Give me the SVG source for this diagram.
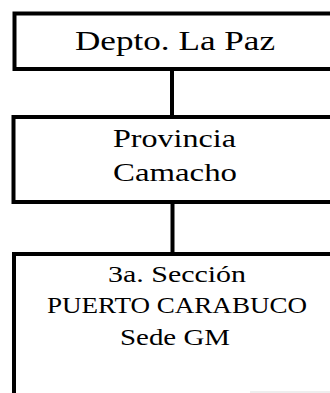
<svg xmlns="http://www.w3.org/2000/svg" width="330" height="393" viewBox="0 0 330 393">
<style>
.box{fill:#fff;stroke:#000;stroke-width:4}
.conn{stroke:#000;stroke-width:4;fill:none}
.t{font-family:"Liberation Serif","DejaVu Serif",serif;fill:#000;text-anchor:middle}
</style>
<rect width="330" height="393" fill="#fff"/>
<g id="connectors">
<line class="conn" x1="172" y1="69" x2="172" y2="117"/>
<line class="conn" x1="172.5" y1="202" x2="172.5" y2="254"/>
</g>
<g id="depto">
<rect class="box" x="14.5" y="13.5" width="330" height="55.5"/>
<text class="t" x="175" y="49.5" font-size="27" textLength="200" lengthAdjust="spacingAndGlyphs">Depto. La Paz</text>
</g>
<g id="provincia">
<rect class="box" x="13.5" y="117" width="331" height="85"/>
<text class="t" x="174.5" y="147" font-size="25" textLength="123" lengthAdjust="spacingAndGlyphs">Provincia</text>
<text class="t" x="175" y="180.5" font-size="25" textLength="124" lengthAdjust="spacingAndGlyphs">Camacho</text>
</g>
<g id="seccion">
<rect class="box" x="14" y="254" width="331" height="160"/>
<text class="t" x="177" y="282" font-size="23" textLength="138" lengthAdjust="spacingAndGlyphs">3a. Sección</text>
<text class="t" x="177" y="313" font-size="23" textLength="260" lengthAdjust="spacingAndGlyphs">PUERTO CARABUCO</text>
<text class="t" x="175" y="344.5" font-size="23" textLength="110" lengthAdjust="spacingAndGlyphs">Sede GM</text>
</g>
<line x1="250" y1="392" x2="330" y2="392" stroke="#ddd" stroke-width="1"/>
</svg>
